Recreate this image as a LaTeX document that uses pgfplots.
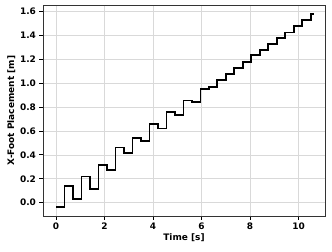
\documentclass[border=0pt]{standalone}
\usepackage{pgfplots}
\pgfplotsset{compat=1.18}
\usepackage{fontspec}
\setmainfont{DejaVu Sans}
\begin{document}
\begin{tikzpicture}
\begin{axis}[name=ax,
  scale only axis, width=282bp, height=211bp,
  xmin=-0.54, xmax=11.09, ymin=-0.112, ymax=1.656,
  xtick={0,2,4,6,8,10},
  ytick={0,0.2,0.4,0.6,0.8,1.0,1.2,1.4,1.6},
  yticklabel style={/pgf/number format/.cd, fixed, fixed zerofill, precision=1},
  /pgf/number format/assume math mode=true,
  ticklabel style={font=\fontsize{9}{10}\selectfont\bfseries},
  label style={font=\fontsize{9}{10}\selectfont\bfseries},
  xlabel={Time [s]}, ylabel={X-Foot Placement [m]},
  xlabel style={yshift=3pt}, ylabel style={yshift=-2pt},
  tick align=outside, tick pos=left,
  major tick length=3.5bp,
  every tick/.style={black, line width=0.8pt},
  axis line style={black!80, line width=0.8pt},
  grid=major, major grid style={gray!30, line width=0.6pt},
]
\addplot[const plot, black, line width=1.7pt] coordinates {
(0,-0.035) (0.35,0.14) (0.70,0.03) (1.05,0.22) (1.40,0.115) (1.75,0.314)
(2.10,0.275) (2.45,0.462) (2.80,0.415) (3.15,0.544) (3.50,0.516) (3.85,0.656)
(4.20,0.622) (4.55,0.76) (4.90,0.737) (5.25,0.855) (5.60,0.843) (5.95,0.955)
(6.30,0.97) (6.65,1.025) (7.00,1.08) (7.35,1.13) (7.70,1.18) (8.05,1.235)
(8.40,1.277) (8.75,1.331) (9.10,1.38) (9.45,1.426) (9.80,1.479) (10.15,1.533)
(10.50,1.578) (10.65,1.578)
};
\end{axis}
\pgfresetboundingbox
\path ([xshift=-43bp,yshift=-36bp]ax.south west) rectangle ([xshift=7bp,yshift=5bp]ax.north east);
\end{tikzpicture}
\end{document}
